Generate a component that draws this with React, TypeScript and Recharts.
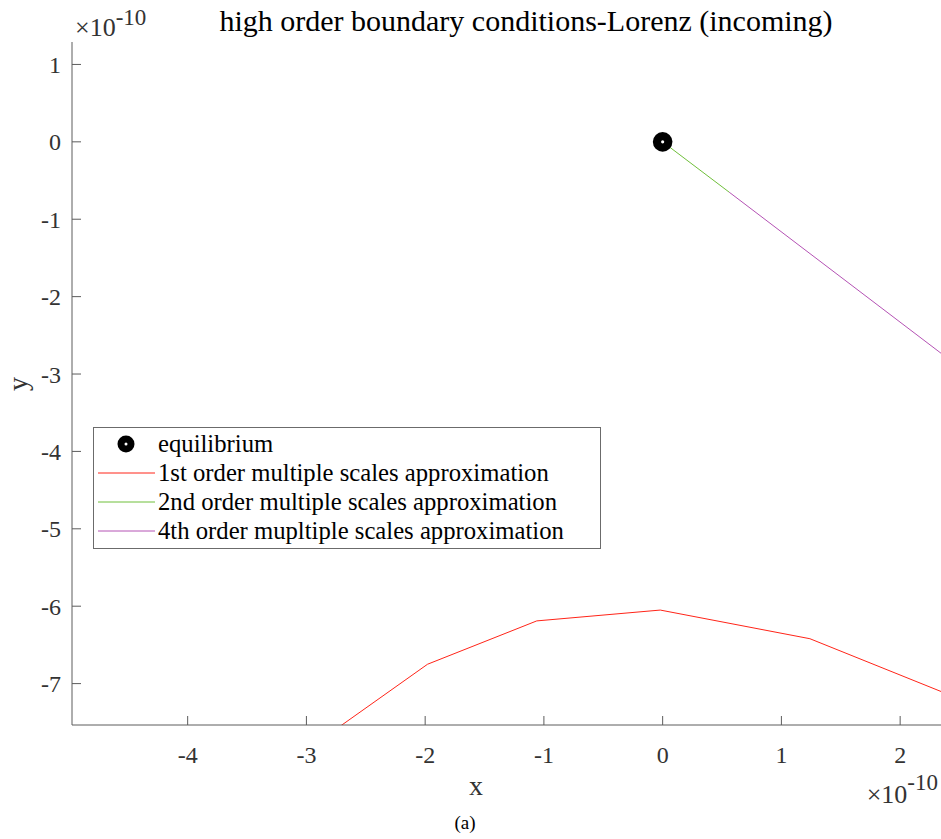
import React from 'react';
import { ComposedChart, Line, Scatter, XAxis, YAxis, Legend } from 'recharts';

const titleText = 'high order boundary conditions-Lorenz (incoming)';
const xLabel = 'x';
const yLabel = 'y';
const captionText = '(a)';
const xTicks = [-4, -3, -2, -1, 0, 1, 2];
const yTicks = [1, 0, -1, -2, -3, -4, -5, -6, -7];
const xDomain: [number, number] = [-4.974, 2.344];
const yDomain: [number, number] = [-7.535, 1.29];

const equilibrium = [{ x: 0, y: 0 }];
const firstOrder = [
  { x: -3.0, y: -7.86 },
  { x: -1.98, y: -6.75 },
  { x: -1.06, y: -6.19 },
  { x: -0.02, y: -6.05 },
  { x: 1.24, y: -6.42 },
  { x: 2.6, y: -7.26 },
];
const secondOrder = [
  { x: 0, y: 0 },
  { x: 0.56, y: -0.65 },
];
const fourthOrder = [
  { x: 0.56, y: -0.65 },
  { x: 2.6, y: -3.03 },
];

const seriesNames = [
  'equilibrium',
  '1st order multiple scales approximation',
  '2nd order multiple scales approximation',
  '4th order mupltiple scales approximation',
];
const seriesColors = ['#000000', '#ff2418', '#6fbf3a', '#b452b4'];

const FONT = '"Liberation Serif", "Times New Roman", serif';
const AXIS_COLOR = '#5c5c5c';
const TEXT_COLOR = '#333333';

const EquilibriumShape = (props: any) => {
  const { cx, cy } = props;
  if (cx == null || cy == null) return null;
  return (
    <g>
      <circle cx={cx} cy={cy} r={9.8} fill="#000" />
      <circle cx={cx} cy={cy} r={1.6} fill="#fff" />
    </g>
  );
};

const LegendBox = () => (
  <svg width={508} height={122} style={{ display: 'block' }}>
    <rect x={0.5} y={0.5} width={507} height={121} fill="#fff" stroke="#6b6b6b" strokeWidth={1} />
    {seriesNames.map((name, i) => {
      const cy = 17 + i * 29;
      return (
        <g key={name}>
          {i === 0 ? (
            <g>
              <circle cx={33} cy={cy} r={8.5} fill="#000" />
              <circle cx={33} cy={cy} r={1.5} fill="#fff" />
            </g>
          ) : (
            <line x1={5} x2={62} y1={cy} y2={cy} stroke={seriesColors[i]} strokeWidth={1} />
          )}
          <text x={65} y={cy + 8} fontSize={24.7} fontFamily={FONT} fill="#000">
            {name}
          </text>
        </g>
      );
    })}
  </svg>
);

export default function App() {
  return (
    <div style={{ position: 'absolute', left: 0, top: 0, width: 941, height: 839, fontFamily: FONT, background: '#fff', overflow: 'hidden' }}>
      <ComposedChart width={941} height={839} margin={{ top: 42, right: 0, bottom: 74, left: 0 }}>
        <XAxis
          type="number"
          dataKey="x"
          domain={xDomain}
          ticks={xTicks}
          interval={0}
          allowDataOverflow
          height={40}
          tickSize={-9}
          tickMargin={30}
          stroke={AXIS_COLOR}
          tick={{ fill: TEXT_COLOR, fontSize: 24, fontFamily: FONT }}
        />
        <YAxis
          type="number"
          dataKey="y"
          domain={yDomain}
          ticks={yTicks}
          interval={0}
          allowDataOverflow
          width={72}
          tickSize={-9}
          tickMargin={20}
          stroke={AXIS_COLOR}
          tick={{ fill: TEXT_COLOR, fontSize: 24, fontFamily: FONT }}
        />
        <Line data={firstOrder} dataKey="y" name={seriesNames[1]} stroke={seriesColors[1]} strokeWidth={1} dot={false} activeDot={false} isAnimationActive={false} />
        <Line data={fourthOrder} dataKey="y" name={seriesNames[3]} stroke={seriesColors[3]} strokeWidth={1} dot={false} activeDot={false} isAnimationActive={false} />
        <Line data={secondOrder} dataKey="y" name={seriesNames[2]} stroke={seriesColors[2]} strokeWidth={1} dot={false} activeDot={false} isAnimationActive={false} />
        <Scatter data={equilibrium} dataKey="y" name={seriesNames[0]} fill="#000" shape={EquilibriumShape} isAnimationActive={false} />
        <Legend
          layout="horizontal"
          align="center"
          verticalAlign="middle"
          content={() => <LegendBox />}
          wrapperStyle={{ position: 'absolute', left: 93, top: 427, width: 508, height: 122 }}
        />
      </ComposedChart>
      <svg width={941} height={839} style={{ position: 'absolute', left: 0, top: 0, pointerEvents: 'none' }}>
        <text x={526} y={31} textAnchor="middle" fontSize={30} fontFamily={FONT} fill="#000">
          {titleText}
        </text>
        <text x={75} y={36} fontSize={26} fontFamily={FONT} fill={TEXT_COLOR}>
          ×10
          <tspan dy={-11} fontSize={23}>-10</tspan>
        </text>
        <text x={938} y={803} textAnchor="end" fontSize={26} fontFamily={FONT} fill={TEXT_COLOR}>
          ×10
          <tspan dy={-13} fontSize={23}>-10</tspan>
        </text>
        <text x={476} y={795} textAnchor="middle" fontSize={28} fontFamily={FONT} fill={TEXT_COLOR}>
          {xLabel}
        </text>
        <text x={27} y={384} textAnchor="middle" fontSize={28} fontFamily={FONT} fill={TEXT_COLOR} transform="rotate(-90 27 384)">
          {yLabel}
        </text>
        <text x={465} y={829} textAnchor="middle" fontSize={19} fontFamily={FONT} fill="#000">
          {captionText}
        </text>
      </svg>
    </div>
  );
}
